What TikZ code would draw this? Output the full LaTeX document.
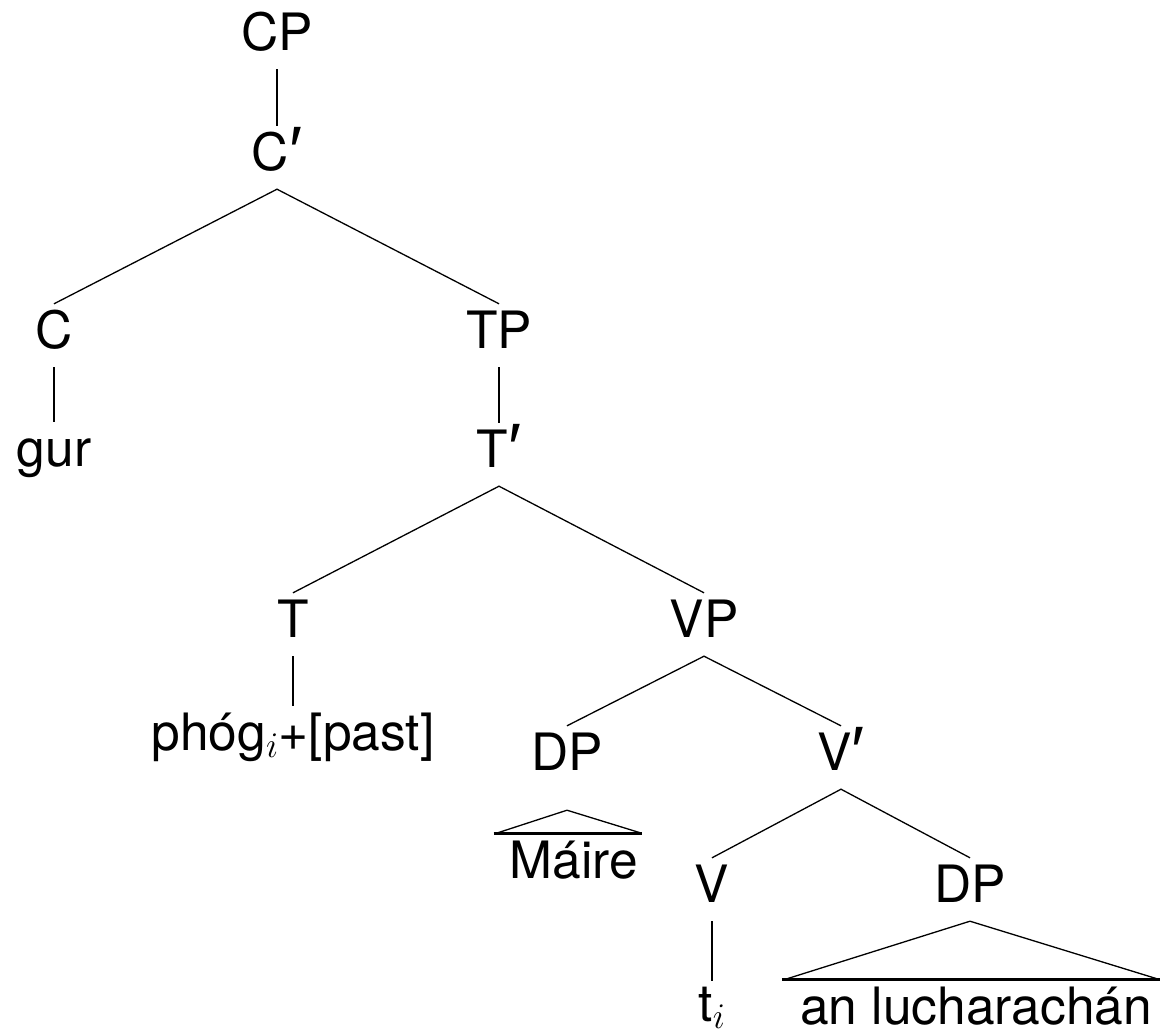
\RequirePackage{fix-cm}
\documentclass[tikz,border=0pt]{standalone}
\usepackage{fontspec}
\setmainfont{TeX Gyre Heros}
\newfontfamily\primefont{Liberation Sans}
\newcommand{\barlevel}{\raisebox{-5pt}{\primefont\fontsize{70pt}{70pt}\selectfont ′}}
\usetikzlibrary{calc}

\tikzset{
  lbl/.style={anchor=base, inner sep=0pt, text height=44pt, text depth=19pt,
              font=\fontsize{51.5pt}{60pt}\selectfont},
  branch/.style={line width=1.3pt},
  unary/.style={line width=1.8pt},
  roofbase/.style={line width=3pt},
}

\begin{document}
\begin{tikzpicture}[x=1pt, y=-1pt]
  \useasboundingbox (0,0) rectangle (1162,1036);

  % labels
  \node[lbl] (cp)    at (277,50)   {CP};
  \node[lbl] (cbar)  at (277,170)  {C\barlevel};
  \node[lbl] (c)     at (54,348)   {C};
  \node[lbl] (tp)    at (499,348)  {TP};
  \node[lbl] (gur)   at (54,466)   {gur};
  \node[lbl] (tbar)  at (499,467)  {T\barlevel};
  \node[lbl] (t)     at (293,637)  {T};
  \node[lbl] (vp)    at (704,637)  {VP};
  \node[lbl] (phog)  at (293,750)  {phóg$_i$+[past]};
  \node[lbl] (dpa)   at (567,770)  {DP};
  \node[lbl] (vbar)  at (841,770)  {V\barlevel};
  \node[lbl] (maire) at (574,878)  {Máire};
  \node[lbl] (v)     at (712,902)  {V};
  \node[lbl] (dpb)   at (970,902)  {DP};
  \node[lbl] (ti)    at (712,1021) {t$_i$};
  \node[lbl] (luch)  at (976,1024) {an lucharachán};

  % unary branches
  \draw[unary] (cp.south) -- (cbar.north);
  \draw[unary] (c.south) -- (gur.north);
  \draw[unary] (tp.south) -- (tbar.north);
  \draw[unary] (t.south) -- (phog.north);
  \draw[unary] (v.south) -- ([yshift=-4pt]ti.north);

  % binary branches
  \draw[branch] (c.north) -- (cbar.south) -- (tp.north);
  \draw[branch] (t.north) -- (tbar.south) -- (vp.north);
  \draw[branch] (dpa.north) -- (vp.south) -- (vbar.north);
  \draw[branch] (v.north) -- (vbar.south) -- (dpb.north);

  % roof over Máire
  \coordinate (roofa) at ([yshift=-21pt]dpa.south);
  \draw[branch] ([xshift=-12pt,yshift=1pt]maire.north west) -- (roofa)
                -- ([xshift=2pt,yshift=1pt]maire.north east);
  \draw[roofbase] ([xshift=-16pt]maire.north west) -- ([xshift=4pt]maire.north east);

  % roof over an lucharachán
  \draw[branch] ([xshift=-13pt,yshift=1pt]luch.north west) -- (dpb.south)
                -- ([xshift=5pt,yshift=1pt]luch.north east);
  \draw[roofbase] ([xshift=-18pt]luch.north west) -- ([xshift=8pt]luch.north east);
\end{tikzpicture}
\end{document}
